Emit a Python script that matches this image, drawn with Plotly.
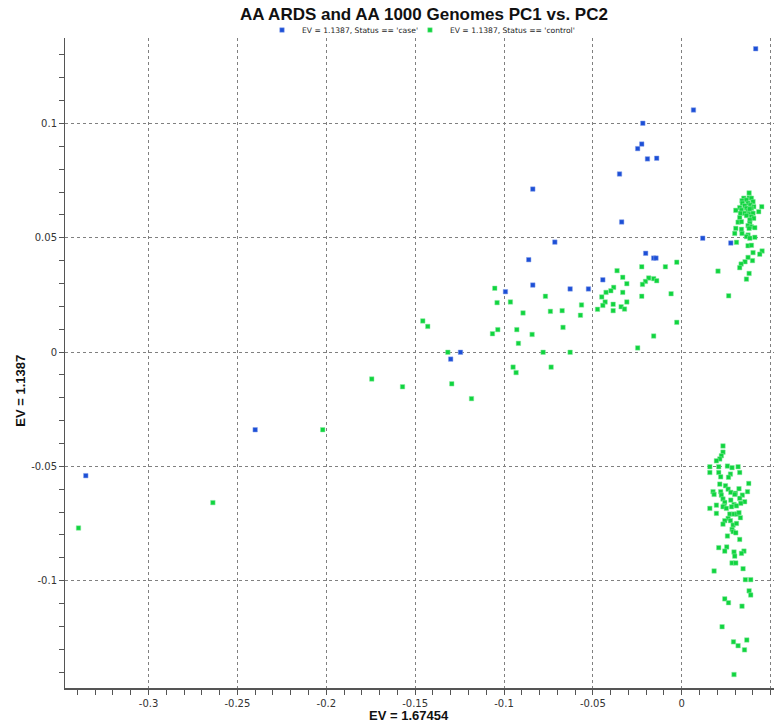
import plotly.graph_objects as go

# ---- data ----
case_x = [0.0416, 0.0066, -0.0219, -0.0225, -0.0248, -0.0193, -0.0141, -0.0350, -0.0838,
          -0.0338, 0.0118, 0.0276, -0.0714, -0.0203, -0.0158, -0.0145, -0.0861, -0.0444,
          -0.0838, -0.0628, -0.0525, -0.0992, -0.1245, -0.1300, -0.2400, -0.3353]
case_y = [0.1327, 0.1059, 0.1001, 0.0910, 0.0890, 0.0845, 0.0848, 0.0779, 0.0713,
          0.0569, 0.0498, 0.0477, 0.0481, 0.0432, 0.0411, 0.0411, 0.0404, 0.0316,
          0.0293, 0.0276, 0.0276, 0.0264, -0.0001, -0.0031, -0.0340, -0.0541]

control_x = [
    # upper-right cluster
    0.0379, 0.0349, 0.0379, 0.0392, 0.0339, 0.0364, 0.0401, 0.0341, 0.0373, 0.0386,
    0.0354, 0.0405, 0.0450, 0.0326, 0.0364, 0.0392, 0.0304, 0.0336, 0.0373, 0.0383,
    0.0433, 0.0330, 0.0354, 0.0379, 0.0401, 0.0364, 0.0392, 0.0405, 0.0326, 0.0383,
    0.0317, 0.0336, 0.0383, 0.0373, 0.0392, 0.0411, 0.0304, 0.0336, 0.0379, 0.0298,
    0.0339, 0.0373, 0.0364, 0.0383, 0.0411, 0.0308, 0.0373, 0.0392, 0.0452, 0.0401,
    0.0439, 0.0373, 0.0398, 0.0356, 0.0334, 0.0326, 0.0204, 0.0379, 0.0364, 0.0264,
    # lower-right cluster
    0.0232, 0.0232, 0.0223, 0.0214, 0.0195, 0.0158, 0.0208, 0.0257, 0.0283, 0.0317,
    0.0158, 0.0208, 0.0274, 0.0326, 0.0219, 0.0263, 0.0214, 0.0246, 0.0377, 0.0261,
    0.0322, 0.0176, 0.0219, 0.0276, 0.0302, 0.0370, 0.0182, 0.0223, 0.0298, 0.0341,
    0.0326, 0.0232, 0.0276, 0.0242, 0.0354, 0.0195, 0.0238, 0.0294, 0.0332, 0.0158,
    0.0232, 0.0251, 0.0280, 0.0308, 0.0195, 0.0270, 0.0294, 0.0311, 0.0322, 0.0261,
    0.0330, 0.0242, 0.0274, 0.0232, 0.0289, 0.0308, 0.0283, 0.0289, 0.0304, 0.0257,
    0.0326, 0.0208, 0.0253, 0.0242, 0.0294, 0.0350, 0.0336, 0.0298, 0.0283, 0.0304,
    0.0182, 0.0345, 0.0358, 0.0388, 0.0379, 0.0388, 0.0242, 0.0263, 0.0339, 0.0227,
    0.0366, 0.0291, 0.0317, 0.0353, 0.0294,
    # middle band
    -0.0225, -0.0092, -0.0028, -0.0364, -0.0332, -0.0186, -0.0158, -0.0141, -0.0204, -0.0309,
    -0.0221, -0.0383, -0.0399, -0.0426, -0.0332, -0.0060, -0.0450, -0.0225, -0.0767, -0.1052,
    -0.0431, -0.0309, -0.1039, -0.0964, -0.0386, -0.0564, -0.0444, -0.0341, -0.0322, -0.0474,
    -0.0386, -0.0673, -0.0739, -0.0893, -0.0570, -0.0028, -0.1457, -0.1429, -0.1035, -0.1065,
    -0.0928, -0.0668, -0.0842, -0.0158, -0.0919, -0.0248, -0.1316, -0.0780, -0.0628, -0.0949,
    -0.0735, -0.0932, -0.1571, -0.1294, -0.1744, -0.1183,
    # far left
    -0.2020, -0.2638, -0.3394,
]
control_y = [
    # upper-right cluster
    0.0696, 0.0673, 0.0675, 0.0673, 0.0662, 0.0665, 0.0658, 0.0651, 0.0651, 0.0643,
    0.0640, 0.0636, 0.0636, 0.0632, 0.0629, 0.0629, 0.0620, 0.0621, 0.0617, 0.0626,
    0.0614, 0.0607, 0.0607, 0.0603, 0.0607, 0.0597, 0.0592, 0.0585, 0.0588, 0.0578,
    0.0568, 0.0570, 0.0563, 0.0553, 0.0548, 0.0544, 0.0541, 0.0537, 0.0541, 0.0519,
    0.0519, 0.0512, 0.0505, 0.0498, 0.0502, 0.0480, 0.0465, 0.0467, 0.0442, 0.0435,
    0.0428, 0.0414, 0.0400, 0.0395, 0.0385, 0.0369, 0.0354, 0.0344, 0.0319, 0.0246,
    # lower-right cluster
    -0.0411, -0.0438, -0.0454, -0.0468, -0.0476, -0.0502, -0.0502, -0.0499, -0.0506, -0.0502,
    -0.0527, -0.0527, -0.0534, -0.0527, -0.0546, -0.0548, -0.0578, -0.0585, -0.0575, -0.0600,
    -0.0598, -0.0611, -0.0611, -0.0614, -0.0618, -0.0611, -0.0623, -0.0626, -0.0623, -0.0626,
    -0.0640, -0.0643, -0.0648, -0.0658, -0.0655, -0.0670, -0.0673, -0.0667, -0.0662, -0.0684,
    -0.0677, -0.0684, -0.0677, -0.0673, -0.0706, -0.0709, -0.0709, -0.0709, -0.0703, -0.0728,
    -0.0725, -0.0738, -0.0738, -0.0753, -0.0757, -0.0750, -0.0776, -0.0786, -0.0791, -0.0805,
    -0.0820, -0.0856, -0.0853, -0.0871, -0.0875, -0.0871, -0.0881, -0.0893, -0.0923, -0.0923,
    -0.0958, -0.0948, -0.0996, -0.0996, -0.1045, -0.1063, -0.1080, -0.1097, -0.1112, -0.1202,
    -0.1260, -0.1268, -0.1285, -0.1303, -0.1411,
    # middle band
    0.0373, 0.0373, 0.0393, 0.0356, 0.0327, 0.0324, 0.0321, 0.0312, 0.0309, 0.0299,
    0.0296, 0.0283, 0.0268, 0.0261, 0.0261, 0.0255, 0.0241, 0.0244, 0.0244, 0.0279,
    0.0219, 0.0219, 0.0216, 0.0219, 0.0209, 0.0206, 0.0204, 0.0198, 0.0188, 0.0187,
    0.0181, 0.0181, 0.0178, 0.0171, 0.0161, 0.0130, 0.0136, 0.0112, 0.0098, 0.0080,
    0.0098, 0.0108, 0.0077, 0.0070, 0.0038, 0.0018, -0.0001, -0.0001, -0.0001, -0.0066,
    -0.0066, -0.0090, -0.0152, -0.0139, -0.0118, -0.0204,
    # far left
    -0.0340, -0.0659, -0.0770,
]

x_tickvals = [-0.3, -0.25, -0.2, -0.15, -0.1, -0.05, 0, 0.05]
x_ticktext = ["-0.3", "-0.25", "-0.2", "-0.15", "-0.1", "-0.05", "0", "0.05"]
y_tickvals = [-0.1, -0.05, 0, 0.05, 0.1]
y_ticktext = ["-0.1", "-0.05", "0", "0.05", "0.1"]

title_text = "AA ARDS and AA 1000 Genomes PC1 vs. PC2"
x_title = "EV = 1.67454"
y_title = "EV = 1.1387"
case_name = "EV = 1.1387, Status == 'case'"
control_name = "EV = 1.1387, Status == 'control'"

BLUE = "#1c4fd6"
GREEN = "#10d43f"

fig = go.Figure()
fig.add_trace(go.Scatter(x=case_x, y=case_y, mode="markers", name=case_name, legend="legend",
                         marker=dict(symbol="square", size=4.5, color=BLUE,
                                     line=dict(width=0.5, color="#8aa2ea"))))
fig.add_trace(go.Scatter(x=control_x, y=control_y, mode="markers", name=control_name, legend="legend2",
                         marker=dict(symbol="square", size=4.5, color=GREEN,
                                     line=dict(width=0.5, color="#8eeaa4"))))

axis_common = dict(
    showgrid=True, gridcolor="#808080", gridwidth=1, griddash="dot",
    zeroline=False, showline=True, linecolor="#555555", automargin=False,
    ticks="outside", ticklen=5, tickcolor="#555555",
    tickfont=dict(family="DejaVu Sans", size=10, color="#333333"),
    minor=dict(dtick=0.01, tick0=0, ticks="outside", ticklen=5, tickcolor="#555555", showgrid=False),
)

legend_common = dict(orientation="h", xanchor="left", xref="container",
                     y=0.9587, yanchor="middle", yref="container",
                     font=dict(family="DejaVu Sans", size=7.6, color="#222222"),
                     bgcolor="rgba(0,0,0,0)", itemwidth=30)

fig.update_layout(
    template="none",
    width=780, height=727,
    paper_bgcolor="white", plot_bgcolor="white",
    margin=dict(l=65, r=6, t=38, b=39, autoexpand=False),
    title=dict(text="<b>" + title_text + "</b>", x=0.5436, xanchor="center",
               y=0.9807, yanchor="middle", yref="container", xref="container",
               font=dict(family="Liberation Sans", size=17, color="#111111")),
    showlegend=True,
    legend=dict(x=0.3359, **legend_common),
    legend2=dict(x=0.5256, **legend_common),
    xaxis=dict(range=[-0.347, 0.0519], tickvals=x_tickvals, ticktext=x_ticktext,
               linewidth=2, **axis_common),
    yaxis=dict(range=[-0.147, 0.1374], tickvals=y_tickvals, ticktext=y_ticktext,
               linewidth=1, **axis_common),
    annotations=[
        dict(text="<b>" + x_title + "</b>", xref="paper", yref="paper", x=0.485, y=-0.043,
             xanchor="center", yanchor="middle", showarrow=False,
             font=dict(family="Liberation Sans", size=13, color="#111111")),
        dict(text="<b>" + y_title + "</b>", xref="paper", yref="paper", x=-0.063, y=0.458,
             xanchor="center", yanchor="middle", showarrow=False, textangle=-90,
             font=dict(family="Liberation Sans", size=13, color="#111111")),
    ],
)

fig.write_html("out.html", config={"displayModeBar": False},
               post_script="document.body.style.margin='0px';document.body.style.overflow='hidden';")
